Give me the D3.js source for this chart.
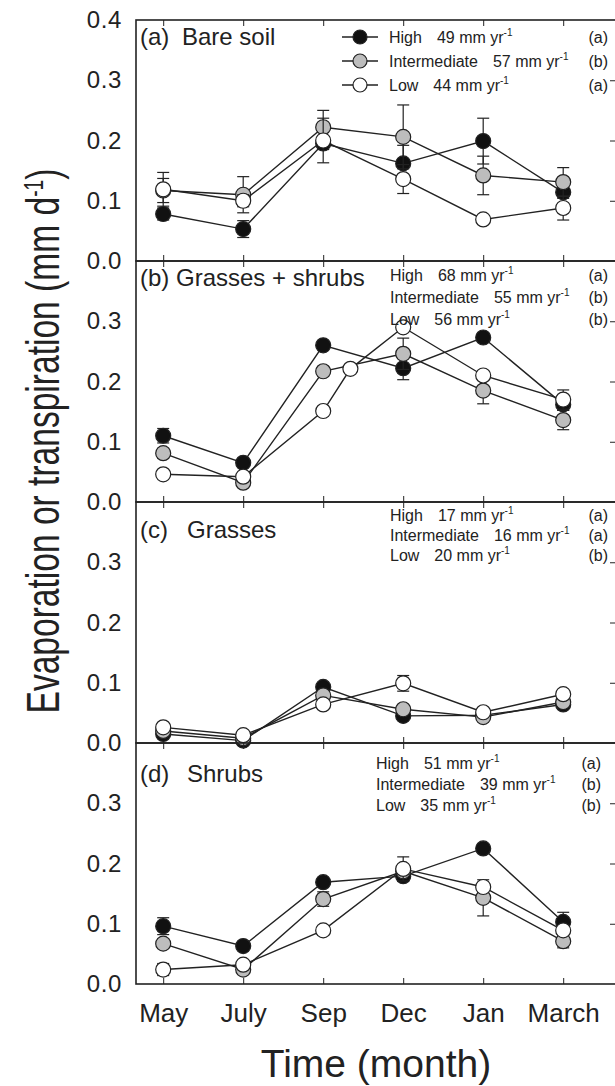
<!DOCTYPE html>
<html>
<head>
<meta charset="utf-8">
<script src="https://cdn.jsdelivr.net/npm/d3@7"></script>
<style>
  body { margin: 0; background: #fff; }
  svg { display: block; font-family: "Liberation Sans", Arial, sans-serif; }
</style>
</head>
<body>
<script>
// categories
var months = ["May", "July", "Sep", "Dec", "Jan", "March"];
var monthIdx = [0, 1, 2, 3, 4, 5];
var yTicks = [0, 0.1, 0.2, 0.3, 0.4];

var panelTags = ["(a)", "(b)", "(c)", "(d)"];
var panelNames = ["Bare soil", "Grasses + shrubs", "Grasses", "Shrubs"];
var seriesNames = ["High", "Intermediate", "Low"];
var annualTotals = [[49, 57, 44], [68, 55, 56], [17, 16, 20], [51, 39, 35]];
var sigLetters = [["a", "b", "a"], ["a", "b", "b"], ["a", "a", "b"], ["a", "b", "b"]];

// (a) bare soil
var bareHigh = [0.078, 0.053, 0.195, 0.162, 0.199, 0.114];
var bareHighSE = [0.010, 0.014, 0.010, 0.030, 0.038, 0.010];
var bareInt = [0.117, 0.110, 0.222, 0.206, 0.142, 0.131];
var bareIntSE = [0.020, 0.030, 0.028, 0.053, 0.032, 0.024];
var bareLow = [0.119, 0.100, 0.200, 0.136, 0.069, 0.088];
var bareLowSE = [0.028, 0.010, 0.037, 0.024, 0.005, 0.020];

// (b) grasses + shrubs (low series has one extra sampling date)
var gsHigh = [0.110, 0.065, 0.260, 0.222, 0.273, 0.162];
var gsHighSE = [0.012, 0.006, 0.005, 0.019, 0.006, 0.010];
var gsInt = [0.081, 0.032, 0.217, 0.246, 0.185, 0.136];
var gsIntSE = [0.008, 0.005, 0.008, 0.026, 0.022, 0.016];
var gsLowX = [0, 1, 2, 2.34, 3, 4, 5];
var gsLow = [0.046, 0.042, 0.151, 0.221, 0.290, 0.210, 0.170];
var gsLowSE = [0.005, 0.005, 0.005, 0.005, 0.005, 0.008, 0.016];

// (c) grasses
var grHigh = [0.015, 0.004, 0.093, 0.045, 0.046, 0.064];
var grHighSE = [0.004, 0.004, 0.004, 0.004, 0.004, 0.004];
var grInt = [0.020, 0.008, 0.079, 0.056, 0.043, 0.068];
var grIntSE = [0.004, 0.004, 0.004, 0.004, 0.004, 0.004];
var grLow = [0.026, 0.013, 0.064, 0.099, 0.051, 0.081];
var grLowSE = [0.004, 0.004, 0.004, 0.013, 0.004, 0.004];

// (d) shrubs
var shHigh = [0.096, 0.063, 0.169, 0.179, 0.225, 0.103];
var shHighSE = [0.014, 0.005, 0.006, 0.008, 0.006, 0.016];
var shInt = [0.067, 0.024, 0.141, 0.187, 0.143, 0.071];
var shIntSE = [0.008, 0.005, 0.012, 0.006, 0.030, 0.011];
var shLow = [0.024, 0.032, 0.089, 0.191, 0.161, 0.089];
var shLowSE = [0.010, 0.005, 0.008, 0.020, 0.006, 0.008];

// build series tables for each panel
function series(x, v, se) {
    return x.map(function(d, i) { return {x: d, v: v[i], se: se[i]}; });
}
var panels = [
    [series(monthIdx, bareHigh, bareHighSE), series(monthIdx, bareInt, bareIntSE), series(monthIdx, bareLow, bareLowSE)],
    [series(monthIdx, gsHigh, gsHighSE), series(monthIdx, gsInt, gsIntSE), series(gsLowX, gsLow, gsLowSE)],
    [series(monthIdx, grHigh, grHighSE), series(monthIdx, grInt, grIntSE), series(monthIdx, grLow, grLowSE)],
    [series(monthIdx, shHigh, shHighSE), series(monthIdx, shInt, shIntSE), series(monthIdx, shLow, shLowSE)]
];

// layout
var width = 615, height = 1086;
var left = 136, right = 616, top0 = 20, panelH = 241;
var fills = ["#111", "#bdbdbd", "#fff"];

// legend / label placement per panel
var legendX = [389, 390, 390, 376];
var letterX = [608, 608, 608, 601];
var legendRows = [[37, 61, 85], [275, 297, 319], [515, 535, 555], [763, 784, 805]];
var labelY = [45, 286, 538, 782];
var nameX = [182, 176, 187, 187];

var svg = d3.select("body").append("svg")
    .attr("width", width)
    .attr("height", height);

var x = d3.scaleLinear()
    .domain([-0.34, 5.66])
    .range([left, right]);

panels.forEach(function(panel, p) {
    var top = top0 + p * panelH;
    var y = d3.scaleLinear().domain([0, 0.4]).range([top + panelH, top]);
    var g = svg.append("g");

    // frame
    g.append("rect")
        .attr("x", left).attr("y", top)
        .attr("width", right - left).attr("height", panelH)
        .attr("fill", "none").attr("stroke", "#222").attr("stroke-width", 1.6);

    // left tick labels (0.4 only on the top panel)
    var labTicks = p === 0 ? yTicks : yTicks.slice(0, 4);
    g.append("g")
        .attr("transform", "translate(" + left + ",0)")
        .call(d3.axisLeft(y).tickValues(labTicks).tickFormat(d3.format(".1f")).tickSize(0).tickPadding(14))
        .call(function(a) {
            a.select(".domain").remove();
            a.selectAll("text").attr("font-size", 24).attr("letter-spacing", 0.6)
                .attr("fill", "#222").attr("font-family", "Liberation Sans, Arial, sans-serif");
        });

    // right inward ticks
    g.append("g")
        .attr("transform", "translate(" + right + ",0)")
        .call(d3.axisLeft(y).tickValues([0.1, 0.2, 0.3]).tickSize(6).tickFormat(""))
        .call(function(a) { a.select(".domain").remove(); a.selectAll("line").attr("stroke", "#222"); });

    // top and bottom inward ticks
    g.append("g")
        .attr("transform", "translate(0," + top + ")")
        .call(d3.axisTop(x).tickValues(monthIdx).tickSize(-6).tickFormat(""))
        .call(function(a) { a.select(".domain").remove(); a.selectAll("line").attr("stroke", "#222"); });
    g.append("g")
        .attr("transform", "translate(0," + (top + panelH) + ")")
        .call(d3.axisBottom(x).tickValues(monthIdx).tickSize(-6).tickFormat(""))
        .call(function(a) { a.select(".domain").remove(); a.selectAll("line").attr("stroke", "#222"); });

    // series: error bars, line, markers
    var line = d3.line().x(function(d) { return x(d.x); }).y(function(d) { return y(d.v); });
    panel.forEach(function(s, k) {
        var eb = g.append("g").selectAll("g").data(s).enter().append("g");
        eb.append("line")
            .attr("x1", function(d) { return x(d.x); }).attr("x2", function(d) { return x(d.x); })
            .attr("y1", function(d) { return y(d.v - d.se); }).attr("y2", function(d) { return y(d.v + d.se); })
            .attr("stroke", "#222").attr("stroke-width", 1.2);
        [-1, 1].forEach(function(sign) {
            eb.append("line")
                .attr("x1", function(d) { return x(d.x) - 6; }).attr("x2", function(d) { return x(d.x) + 6; })
                .attr("y1", function(d) { return y(d.v + sign * d.se); }).attr("y2", function(d) { return y(d.v + sign * d.se); })
                .attr("stroke", "#222").attr("stroke-width", 1.2);
        });
        g.append("path").datum(s)
            .attr("d", line)
            .attr("fill", "none").attr("stroke", "#222").attr("stroke-width", 1.4);
        g.append("g").selectAll("circle").data(s).enter().append("circle")
            .attr("cx", function(d) { return x(d.x); })
            .attr("cy", function(d) { return y(d.v); })
            .attr("r", 7.5)
            .attr("fill", fills[k]).attr("stroke", "#222").attr("stroke-width", 1.2);
    });

    // panel label
    var lab = g.append("text").attr("y", labelY[p]).attr("font-size", 24).attr("fill", "#222");
    lab.append("tspan").attr("x", 140).text(panelTags[p]);
    lab.append("tspan").attr("x", nameX[p]).text(panelNames[p]);

    // legend text
    seriesNames.forEach(function(name, k) {
        var cy = legendRows[p][k];
        if (p === 0) {
            g.append("line").attr("x1", 342).attr("x2", 378).attr("y1", cy).attr("y2", cy)
                .attr("stroke", "#222").attr("stroke-width", 1.3);
            g.append("circle").attr("cx", 360).attr("cy", cy).attr("r", 7)
                .attr("fill", fills[k]).attr("stroke", "#222").attr("stroke-width", 1.2);
        }
        var t = g.append("text").attr("x", legendX[p]).attr("y", cy + 6)
            .attr("font-size", 16).attr("fill", "#222");
        t.append("tspan").text(name);
        t.append("tspan").attr("dx", 15).text(annualTotals[p][k] + " mm yr");
        t.append("tspan").attr("dy", -7).attr("font-size", 10).text("-1");
        g.append("text").attr("x", letterX[p]).attr("y", cy + 6)
            .attr("text-anchor", "end").attr("font-size", 16).attr("fill", "#222")
            .text("(" + sigLetters[p][k] + ")");
    });
});

// bottom month labels
var bottom = top0 + 4 * panelH;
svg.append("g")
    .attr("transform", "translate(0," + bottom + ")")
    .call(d3.axisBottom(x).tickValues(monthIdx).tickSize(0).tickPadding(20)
        .tickFormat(function(d) { return months[d]; }))
    .call(function(a) {
        a.select(".domain").remove();
        a.selectAll("text").attr("font-size", 26).attr("fill", "#222").attr("font-family", "Liberation Sans, Arial, sans-serif");
    });

// axis titles
svg.append("text")
    .attr("x", (left + right) / 2).attr("y", 1077)
    .attr("text-anchor", "middle").attr("font-size", 39).attr("fill", "#222")
    .text("Time (month)");

// y title: condensed by scaling its width to the span seen in the figure
var yt = svg.append("text")
    .attr("text-anchor", "middle").attr("font-size", 47).attr("fill", "#222");
yt.append("tspan").text("Evaporation or transpiration (mm d");
yt.append("tspan").attr("dy", -16).attr("font-size", 27).text("-1");
yt.append("tspan").attr("dy", 16).text(")");
var natural = yt.node().getComputedTextLength();
var sx = 545 / natural;
yt.attr("transform", "translate(59,441) rotate(-90) scale(" + sx + ",1)");
</script>
</body>
</html>
